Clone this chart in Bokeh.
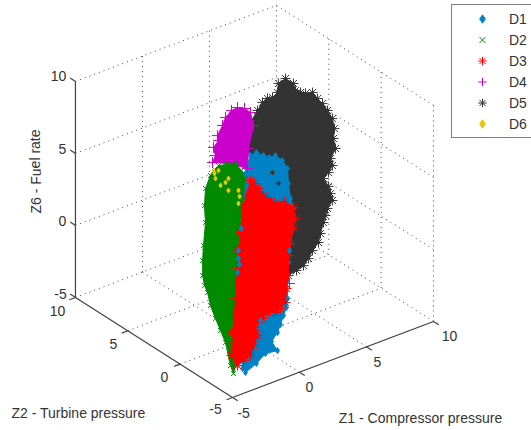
from bokeh.plotting import figure
from bokeh.models import Range1d, Legend, LegendItem
from bokeh.embed import file_html
from bokeh.resources import INLINE

AXIS_TICKS = [-5, 0, 5, 10]
LABELS = ["Z1 - Compressor pressure", "Z2 - Turbine pressure", "Z6 - Fuel rate"]

# Values: each cloud's outline (Z1, Z6) and its Z2 depth.
D5_z2 = 4
D5_z1 = [3.23, 3.23, 3.38, 3.90, 4.27, 4.64, 5.02, 5.39, 5.46, 5.99, 6.58, 6.73, 7.11, 7.48, 8.00, 8.38, 8.75,
         9.12, 9.49, 9.64, 9.57, 9.72, 9.35, 9.49, 9.20, 8.82, 9.20, 9.35, 9.49, 9.12, 8.97, 8.82, 8.60, 8.45,
         8.00, 7.70, 7.33, 6.81, 6.21, 4.12]
D5_z6 = [5.22, 6.13, 6.98, 7.63, 8.06, 8.20, 8.13, 8.36, 8.95, 9.11, 8.56, 8.02, 7.75, 7.55, 7.43, 6.88, 6.40,
         5.79, 5.10, 4.35, 3.69, 2.94, 2.38, 1.84, 1.46, 1.17, 0.49, -0.06, -0.59, -1.01, -1.45, -1.88, -2.57, -3.14,
         -3.54, -3.99, -4.35, -4.51, -4.65, 1.99]
D5_near_z1 = [5.46, 5.02]
D5_near_z6 = [2.01, 2.92]

D1_z2 = -3
D1_z1 = [-2.62, -2.09, -1.65, -1.12, -0.68, -0.23, 0.29, 0.67, 0.74, 0.89, 1.11, 0.74, 0.67, 0.67, 0.59, 0.37,
         0.14, -0.08, -0.53, -0.08, -0.97, -1.65, -2.47, -2.69, -3.21, -3.06, -2.84]
D1_z6 = [8.65, 9.85, 9.91, 9.51, 9.22, 9.20, 8.67, 7.98, 6.92, 5.82, 5.05, 1.43, 0.20, -1.05, -1.65, -2.13,
         -2.67, -3.15, -3.61, -4.40, -4.29, -4.74, -5.08, -4.73, 0.74, 3.04, 4.56]
D1_near_z1 = [-2.99, -2.99, -2.91, -2.77, -3.06, -1.34, 0.82]
D1_near_z6 = [3.02, 3.58, 2.58, 5.02, 2.07, -1.87, 2.23]

D3_z2 = -3
D3_z1 = [-2.69, -2.39, -2.09, -1.79, -1.50, -1.12, -0.83, -0.53, -0.23, 0.44, 1.11, 1.26, 1.11, 0.89, 0.74, 0.74,
         0.59, 0.52, 0.14, -0.23, -0.75, -1.20, -1.72, -1.57, -1.87, -2.09, -2.61, -3.06, -3.51, -3.36, -3.44,
         -3.29, -3.21, -3.14, -3.06, -2.99, -2.84]
D3_z6 = [6.45, 7.18, 8.12, 7.81, 7.35, 6.74, 6.42, 6.11, 5.87, 5.77, 5.12, 4.30, 3.66, 2.69, 1.92, 0.53,
         -0.33, -1.27, -1.56, -1.70, -1.52, -1.78, -2.22, -2.83, -3.42, -4.03, -4.20, -4.39, -3.53, -2.90, -1.97,
         -0.83, 0.32, 1.33, 2.35, 3.58, 4.77]

D2_z2 = -2
D2_z1 = [-4.67, -4.75, -4.67, -4.30, -4.00, -3.70, -3.10, -2.43, -1.98, -1.69, -1.91, -2.06, -2.21, -2.13, -2.28,
         -2.43, -2.58, -2.50, -2.43, -2.58, -2.81, -3.18, -3.55, -3.93, -4.30, -4.52, -4.74, -4.89, -4.89, -4.82]
D2_z6 = [5.65, 6.85, 8.01, 8.78, 9.09, 9.26, 9.12, 8.95, 8.31, 7.65, 6.20, 4.72, 3.18, 1.42, -0.06,
         -1.26, -2.24, -3.66, -5.08, -5.58, -4.94, -3.22, -2.25, -1.28, -0.25, 0.73, 1.29, 2.04, 3.08, 4.10]

D4_z2 = 5
D4_z1 = [1.32, 1.54, 1.40, 1.77, 1.69, 2.07, 2.29, 2.74, 3.19, 3.71, 4.16, 4.38, 4.01, 3.93, 2.51]
D4_z6 = [4.46, 4.87, 5.48, 5.83, 6.20, 6.77, 7.25, 7.57, 7.62, 7.37, 6.93, 5.95, 4.49, 3.13, 3.98]
D4_far_z2 = [0]
D4_far_z1 = [3.16]
D4_far_z6 = [-2.27]

D6_z2 = 5
D6_z1 = [1.40, 1.77, 1.54, 2.51, 3.26, 3.26, 1.92, 2.51, 2.29, 1.47, 3.34]
D6_z6 = [3.88, 3.75, 3.27, 2.93, 1.84, 0.93, 2.66, 2.10, 2.73, 3.64, 1.39]

# 3-D view: where the axis corner falls on the page and the page step per data unit.
ORIGIN = (232.0, 397.0)
STEP_Z1 = (13.4, -5.07)
STEP_Z2 = (-10.47, -6.67)
STEP_Z6 = (0.0, -14.4)


def project(z1, z2, z6):
    a, b, c = z1 + 5, z2 + 5, z6 + 5
    return (ORIGIN[0] + a * STEP_Z1[0] + b * STEP_Z2[0] + c * STEP_Z6[0],
            ORIGIN[1] + a * STEP_Z1[1] + b * STEP_Z2[1] + c * STEP_Z6[1])


def series(z1s, z2, z6s):
    z2s = z2 if isinstance(z2, list) else [z2] * len(z1s)
    pts = [project(a, b, c) for a, b, c in zip(z1s, z2s, z6s)]
    return [q[0] for q in pts], [q[1] for q in pts]


p = figure(width=531, height=430, output_backend="svg", toolbar_location=None,
           x_range=Range1d(0, 531), y_range=Range1d(430, 0), x_axis_type=None, y_axis_type=None,
           min_border=0, outline_line_color=None, background_fill_color="white")
p.xgrid.visible = False
p.ygrid.visible = False

# Dotted box grid
grid = []
for v in [0, 5, 10]:
    grid.append(((v, -5, -5), (v, 10, -5)))
    grid.append(((-5, v, -5), (10, v, -5)))
    grid.append(((v, 10, -5), (v, 10, 10)))
    grid.append(((-5, 10, v), (10, 10, v)))
    grid.append(((10, -5, v), (10, 10, v)))
for v in [-5, 0, 5]:
    grid.append(((10, v, -5), (10, v, 10)))
x0, y0, x1, y1 = [], [], [], []
for a, b in grid:
    pa, pb = project(*a), project(*b)
    x0.append(pa[0]); y0.append(pa[1]); x1.append(pb[0]); y1.append(pb[1])
p.segment(x0, y0, x1, y1, line_color="#444444", line_width=1, line_dash="1 4")

# Solid axes and tick marks
axes = [((-5, 10, -5), (-5, 10, 10)), ((-5, -5, -5), (-5, 10, -5)), ((-5, -5, -5), (10, -5, -5))]
for t in AXIS_TICKS:
    axes.append(((-5, 10, t), (-5, 10.5, t)))
    axes.append(((-5, t, -5), (-5.45, t, -5)))
    axes.append(((t, -5, -5), (t, -5.5, -5)))
x0, y0, x1, y1 = [], [], [], []
for a, b in axes:
    pa, pb = project(*a), project(*b)
    x0.append(pa[0]); y0.append(pa[1]); x1.append(pb[0]); y1.append(pb[1])
p.segment(x0, y0, x1, y1, line_color="#404040", line_width=1.2)

# Clouds: solid core from the outline, markers on the outline
STYLE = {
    "D1": dict(marker="diamond", size=6, color="#0083C6"),
    "D2": dict(marker="x", size=7, color="#008A00"),
    "D3": dict(marker="asterisk", size=10, color="#FF0000"),
    "D4": dict(marker="cross", size=11, color="#CC00CC"),
    "D5": dict(marker="asterisk", size=10, color="#333333"),
    "D6": dict(marker="diamond", size=5, color="#E8C800"),
}
DATA = {"D1": (D1_z1, D1_z2, D1_z6), "D2": (D2_z1, D2_z2, D2_z6), "D3": (D3_z1, D3_z2, D3_z6),
        "D4": (D4_z1, D4_z2, D4_z6), "D5": (D5_z1, D5_z2, D5_z6), "D6": (D6_z1, D6_z2, D6_z6)}
rend = {}
for name in ["D5", "D1", "D4", "D2", "D3", "D6"]:
    xs, ys = series(*DATA[name])
    st = STYLE[name]
    if name != "D6":
        p.patch(xs, ys, fill_color=st["color"], line_color=st["color"], line_width=1)
    rend[name] = p.scatter(xs, ys, marker=st["marker"], size=st["size"], line_color=st["color"],
                           fill_color=st["color"], line_width=1)

# Single points that show through the clouds in front of them
xs, ys = series(D1_near_z1, D1_z2, D1_near_z6)
p.scatter(xs, ys, marker="diamond", size=6, line_color=STYLE["D1"]["color"], fill_color=STYLE["D1"]["color"])
xs, ys = series(D5_near_z1, D5_z2, D5_near_z6)
p.scatter(xs, ys, marker="asterisk", size=5, line_color=STYLE["D5"]["color"], line_width=1)
xs, ys = series(D4_far_z1, D4_far_z2, D4_far_z6)
p.scatter(xs, ys, marker="cross", size=11, line_color=STYLE["D4"]["color"], line_width=1)

# Tick labels and axis titles
TF = dict(text_font={"value": "Liberation Sans"}, text_color="#333333", text_align="center",
          text_baseline="middle", text_font_size="14px")
p.text([58, 62, 62, 60][::-1], [75, 148, 220, 293][::-1], text=[str(t) for t in AXIS_TICKS], **TF)
p.text([215, 164, 113, 57], [408, 376, 343, 310], text=[str(t) for t in AXIS_TICKS], **TF)
p.text([243, 309, 377, 449], [412, 386, 361, 335], text=[str(t) for t in AXIS_TICKS], **TF)
p.text([420], [417], text=[LABELS[0]], **TF)
p.text([78], [412], text=[LABELS[1]], **TF)
p.text([35], [171], text=[LABELS[2]], angle=1.5708, **TF)

legend = Legend(items=[LegendItem(label=k, renderers=[rend[k]]) for k in ["D1", "D2", "D3", "D4", "D5", "D6"]],
                location=(451, 430 - 138), orientation="vertical", padding=3, spacing=0, margin=0,
                glyph_width=54, glyph_height=21, label_height=21, label_standoff=0,
                label_text_font="Liberation Sans", label_text_font_size="14px", label_text_color="#333333",
                border_line_color="#000000", border_line_width=1.5, background_fill_color="white",
                background_fill_alpha=1.0)
p.add_layout(legend, "center")

open("out.html", "w").write(file_html(p, INLINE))
